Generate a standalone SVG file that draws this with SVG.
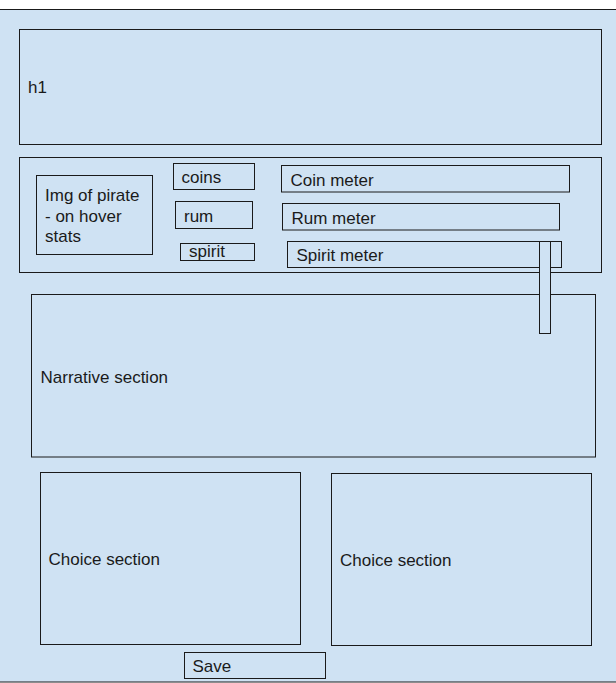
<svg xmlns="http://www.w3.org/2000/svg" width="616" height="683" viewBox="0 0 616 683">
<style>
.b{fill:#cfe2f3;stroke:#1a1a1a;stroke-width:1}
.t{font-family:"Liberation Sans",Arial,sans-serif;font-size:17px;fill:#1a1a1a}
</style>
<rect x="0" y="0" width="616" height="683" fill="#ffffff"/>
<g id="page"><rect class="b" x="-3" y="9.5" width="622" height="672.5" stroke-width="1.3"/></g>
<g id="h1"><rect class="b" x="19.5" y="29.5" width="582" height="115"/><text class="t" x="28" y="93">h1</text></g>
<g id="stats"><rect class="b" x="19.5" y="157.5" width="582" height="115"/></g>
<g id="img"><rect class="b" x="36.5" y="175.5" width="116" height="79"/>
<text class="t" x="45" y="201">Img of pirate</text>
<text class="t" x="45" y="222">- on hover</text>
<text class="t" x="45" y="242">stats</text></g>
<g id="coins"><rect class="b" x="173.5" y="163.5" width="81" height="26"/><text class="t" x="181.5" y="183">coins</text></g>
<g id="rum"><rect class="b" x="175.5" y="201.5" width="77" height="27"/><text class="t" x="184" y="222">rum</text></g>
<g id="spirit"><rect class="b" x="180.5" y="243.5" width="74" height="17"/><text class="t" x="189" y="257">spirit</text></g>
<g id="coinmeter"><rect class="b" x="281.5" y="165.5" width="288" height="26.5"/><text class="t" x="290.5" y="186">Coin meter</text></g>
<g id="rummeter"><rect class="b" x="282.5" y="203.5" width="277" height="26.5"/><text class="t" x="291.5" y="223.5">Rum meter</text></g>
<g id="spiritmeter"><rect class="b" x="287.5" y="241.5" width="274" height="26"/><text class="t" x="296.5" y="261">Spirit meter</text></g>
<g id="narrative"><rect class="b" x="31.5" y="294.5" width="564" height="162.5"/><text class="t" x="40.5" y="383">Narrative section</text></g>
<g id="choice1"><rect class="b" x="40.5" y="472.5" width="260" height="172"/><text class="t" x="48.5" y="565">Choice section</text></g>
<g id="choice2"><rect class="b" x="331.5" y="473.5" width="260" height="172"/><text class="t" x="340" y="566">Choice section</text></g>
<g id="save"><rect class="b" x="184.5" y="652.5" width="141" height="26"/><text class="t" x="192.5" y="672">Save</text></g>
<g id="bar"><rect class="b" x="539.5" y="241.5" width="11" height="92"/></g>
<g id="connectors"></g>
</svg>
